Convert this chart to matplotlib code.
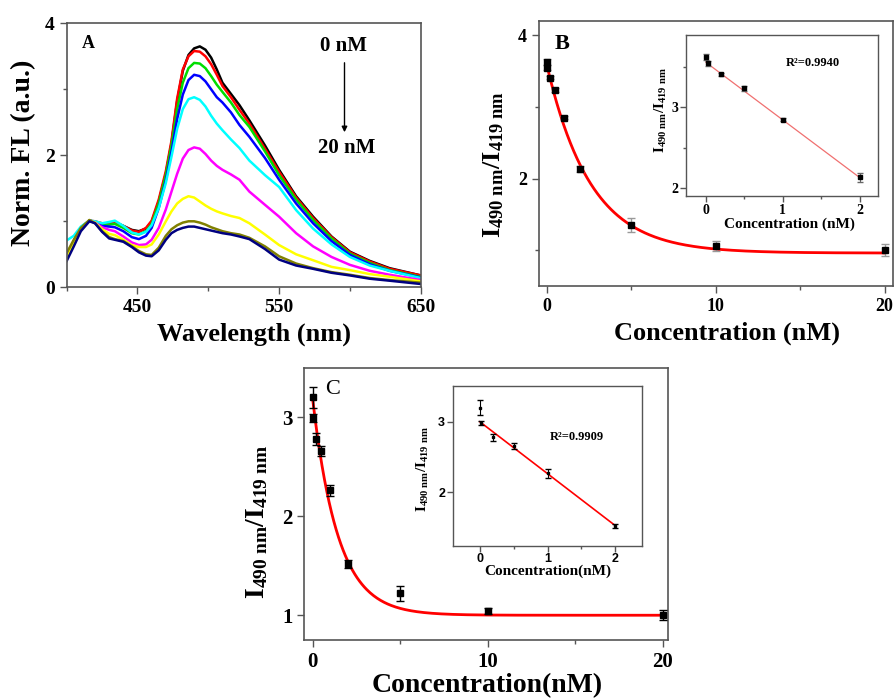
import numpy as np
import matplotlib
matplotlib.use("Agg")
import matplotlib.pyplot as plt

plt.rcParams['font.family'] = ['Liberation Serif', 'DejaVu Serif']
plt.rcParams['font.weight'] = 'bold'
plt.rcParams['mathtext.fontset'] = 'custom'
plt.rcParams['mathtext.rm'] = 'Liberation Serif'
plt.rcParams['mathtext.bf'] = 'Liberation Serif:bold'
plt.rcParams['mathtext.it'] = 'Liberation Serif:italic'

W, H = 894, 698

# ---- panel A: normalised spectra, 0 nM -> 20 nM
wl = [400, 405, 410, 416, 420, 425, 430, 434, 440, 446, 451, 456, 460, 465, 470, 474,
      478, 482, 486, 490, 494, 498, 502, 506, 510, 516, 522, 529, 540, 550, 562, 574,
      587, 600, 614, 628, 650]
fl_black = [0.45, 0.70, 0.90, 1.01, 0.99, 0.95, 0.96, 0.98, 0.93, 0.87, 0.85, 0.89, 0.99, 1.30,
            1.72, 2.18, 2.82, 3.28, 3.52, 3.62, 3.65, 3.60, 3.48, 3.30, 3.10, 2.93, 2.76, 2.53,
            2.15, 1.78, 1.38, 1.07, 0.77, 0.54, 0.40, 0.29, 0.18]
fl_red = [0.45, 0.70, 0.90, 1.01, 1.00, 0.97, 0.97, 0.99, 0.93, 0.86, 0.84, 0.90, 1.01, 1.33,
          1.76, 2.22, 2.86, 3.30, 3.50, 3.58, 3.57, 3.50, 3.38, 3.22, 3.05, 2.88, 2.69, 2.48,
          2.10, 1.75, 1.36, 1.05, 0.76, 0.53, 0.39, 0.28, 0.18]
fl_green = [0.45, 0.70, 0.90, 1.01, 0.99, 0.94, 0.95, 0.96, 0.90, 0.82, 0.80, 0.85, 0.96, 1.27,
            1.70, 2.15, 2.70, 3.10, 3.32, 3.40, 3.39, 3.32, 3.20, 3.07, 2.96, 2.80, 2.61, 2.43,
            2.06, 1.70, 1.33, 1.02, 0.74, 0.51, 0.37, 0.26, 0.16]
fl_blue = [0.43, 0.68, 0.89, 1.01, 0.99, 0.93, 0.92, 0.91, 0.85, 0.76, 0.73, 0.78, 0.90, 1.20,
           1.62, 2.05, 2.55, 2.92, 3.14, 3.22, 3.20, 3.12, 3.00, 2.88, 2.80, 2.65, 2.46, 2.28,
           1.96, 1.63, 1.27, 0.97, 0.70, 0.49, 0.35, 0.25, 0.15]
fl_cyan = [0.71, 0.78, 0.92, 1.01, 1.00, 0.97, 0.99, 1.01, 0.93, 0.83, 0.80, 0.84, 0.94, 1.20,
           1.58, 1.98, 2.40, 2.70, 2.85, 2.88, 2.84, 2.74, 2.60, 2.48, 2.38, 2.24, 2.11, 1.92,
           1.70, 1.52, 1.17, 0.89, 0.65, 0.46, 0.33, 0.25, 0.14]
fl_magenta = [0.43, 0.66, 0.88, 1.01, 0.98, 0.91, 0.87, 0.85, 0.77, 0.68, 0.64, 0.65, 0.72, 0.90,
              1.18, 1.45, 1.72, 1.95, 2.08, 2.12, 2.10, 2.02, 1.92, 1.84, 1.78, 1.71, 1.63, 1.45,
              1.25, 1.07, 0.82, 0.62, 0.46, 0.34, 0.25, 0.19, 0.11]
fl_yellow = [0.45, 0.67, 0.88, 1.01, 0.98, 0.88, 0.81, 0.79, 0.72, 0.64, 0.61, 0.61, 0.65, 0.80,
             1.00, 1.15, 1.27, 1.34, 1.38, 1.36, 1.30, 1.24, 1.19, 1.15, 1.12, 1.08, 1.05, 0.97,
             0.80, 0.64, 0.50, 0.41, 0.31, 0.26, 0.20, 0.16, 0.09]
fl_olive = [0.52, 0.72, 0.90, 1.02, 0.97, 0.85, 0.76, 0.73, 0.70, 0.62, 0.55, 0.50, 0.49, 0.60,
            0.78, 0.88, 0.94, 0.98, 1.00, 1.00, 0.98, 0.95, 0.91, 0.88, 0.85, 0.82, 0.80, 0.75,
            0.62, 0.47, 0.36, 0.29, 0.23, 0.19, 0.14, 0.11, 0.07]
fl_navy = [0.40, 0.62, 0.85, 1.00, 0.97, 0.84, 0.74, 0.72, 0.69, 0.61, 0.53, 0.48, 0.47, 0.56,
           0.72, 0.82, 0.87, 0.90, 0.92, 0.92, 0.90, 0.88, 0.86, 0.84, 0.82, 0.80, 0.77, 0.73,
           0.58, 0.42, 0.33, 0.28, 0.22, 0.18, 0.13, 0.10, 0.05]
spectra = [fl_black, fl_red, fl_green, fl_blue, fl_cyan, fl_magenta, fl_yellow, fl_olive, fl_navy]
spec_colors = ['black', 'red', '#00dd00', 'blue', 'cyan', 'magenta', 'yellow', '#808000', '#000080']

# ---- panel B: ratio vs concentration
conc_b = [0, 0.02, 0.2, 0.5, 1, 2, 5, 10, 20]
ratio_b = [3.63, 3.55, 3.41, 3.24, 2.85, 2.13, 1.35, 1.06, 1.00]
err_b = [0.04, 0.03, 0.02, 0.03, 0.02, 0.04, 0.10, 0.07, 0.08]
fit_b = (0.96, 2.64, 2.6)          # y0, A, t of exponential decay
ins_conc_b = [0, 0.02, 0.2, 0.5, 1, 2]
ins_ratio_b = [3.63, 3.55, 3.41, 3.24, 2.85, 2.13]
ins_err_b = [0.04, 0.03, 0.02, 0.03, 0.02, 0.05]
line_b = (3.56, -0.715)            # intercept, slope

# ---- panel C
conc_c = [0, 0.02, 0.2, 0.5, 1, 2, 5, 10, 20]
ratio_c = [3.20, 2.99, 2.78, 2.66, 2.26, 1.52, 1.22, 1.04, 1.00]
err_c = [0.11, 0.04, 0.06, 0.05, 0.06, 0.04, 0.08, 0.03, 0.05]
fit_c = (1.00, 2.18, 1.45)
ins_conc_c = [0, 0.02, 0.2, 0.5, 1, 2]
ins_ratio_c = [3.20, 2.98, 2.78, 2.66, 2.27, 1.52]
ins_err_c = [0.11, 0.03, 0.05, 0.04, 0.06, 0.03]
line_c = (3.00, -0.735)


def px_axes(fig, left, top, right, bottom):
    return fig.add_axes([left / W, 1 - bottom / H, (right - left) / W, (bottom - top) / H])


def ftext(fig, x, y, s, **kw):
    kw.setdefault('ha', 'center')
    kw.setdefault('va', 'center')
    return fig.text(x / W, 1 - y / H, s, **kw)


def style(ax, size, tickfam=None, lw=1.2, pad=3.5):
    for sp in ax.spines.values():
        sp.set_color('#555555')
        sp.set_linewidth(lw)
    ax.tick_params(which='both', direction='out', color='#555555', width=1.0)
    ax.tick_params(which='major', length=5, labelsize=size, pad=pad)
    ax.tick_params(which='minor', length=3)
    for lab in ax.get_xticklabels() + ax.get_yticklabels():
        lab.set_fontweight('bold')
        if tickfam:
            lab.set_family(tickfam)


fig = plt.figure(figsize=(W / 100, H / 100), dpi=100)

ratio_label = r'$\mathbf{I_{490\ nm}/I_{419\ nm}}$'

# panel A
ax = px_axes(fig, 66.7, 23.3, 420.7, 287.3)
for ys, c in zip(spectra, spec_colors):
    ax.plot(wl, ys, color=c, lw=1.8)
ax.set_xlim(400, 650)
ax.set_ylim(0, 4)
ax.set_xticks([450, 550, 650])
ax.set_xticks([400, 500, 600], minor=True)
ax.set_yticks([0, 2, 4])
ax.set_yticks([1, 3], minor=True)
style(ax, 14)
ftext(fig, 88, 44, 'A', fontsize=13, fontweight='bold')
ftext(fig, 343, 46, '0 nM', fontsize=15, fontweight='bold')
ftext(fig, 347, 148, '20 nM', fontsize=15, fontweight='bold')
fig.add_artist(matplotlib.patches.FancyArrowPatch(
    (344.5 / W, 1 - 60 / H), (344.5 / W, 1 - 135 / H), transform=fig.transFigure,
    arrowstyle='-|>', mutation_scale=8, color='black', lw=1))
ftext(fig, 254, 334, 'Wavelength (nm)', fontsize=19, fontweight='bold')
ftext(fig, 24, 153, 'Norm. FL (a.u.)', fontsize=20, fontweight='bold', rotation=90)

# panel B
ax = px_axes(fig, 539, 21, 893, 286)
xs = np.linspace(0, 20, 300)
ax.plot(xs, fit_b[0] + fit_b[1] * np.exp(-xs / fit_b[2]), color='red', lw=2, zorder=2)
ax.errorbar(conc_b, ratio_b, yerr=err_b, fmt='s', color='black', ms=5, ecolor='#999999',
            elinewidth=1, capsize=3, zorder=3)
ax.set_xlim(-0.45, 20.5)
ax.set_ylim(0.5, 4.2)
ax.set_xticks([0, 10, 20])
ax.set_xticks([5, 15], minor=True)
ax.set_yticks([2, 4])
ax.set_yticks([1, 3], minor=True)
style(ax, 13)
ftext(fig, 562, 44, 'B', fontsize=16, fontweight='bold')
ftext(fig, 727, 333, 'Concentration (nM)', fontsize=19, fontweight='bold')
ftext(fig, 494, 165, ratio_label, fontsize=19, rotation=90)

ax = px_axes(fig, 686, 35, 878, 196)
xl = np.array([0.0, 2.0])
ax.plot(xl, line_b[0] + line_b[1] * xl, color='#f07070', lw=0.9, zorder=2)
ax.errorbar(ins_conc_b, ins_ratio_b, yerr=ins_err_b, fmt='s', color='black', ms=3,
            ecolor='#666666', elinewidth=0.8, capsize=2, zorder=3)
ax.set_xlim(-0.26, 2.24)
ax.set_ylim(1.9, 3.9)
ax.set_xticks([0, 1, 2])
ax.set_xticks([0.5, 1.5], minor=True)
ax.set_yticks([2, 3])
ax.set_yticks([2.5, 3.5], minor=True)
style(ax, 10, lw=1.0, pad=1.5)
ax.tick_params(which='major', length=4)
ax.tick_params(which='minor', length=2)
ftext(fig, 813, 63, 'R²=0.9940', fontsize=9, fontweight='bold')
ftext(fig, 789, 224, 'Concentration (nM)', fontsize=11, fontweight='bold')
ftext(fig, 661, 110, ratio_label, fontsize=11, rotation=90)

# panel C
ax = px_axes(fig, 304.3, 367.7, 668, 640)
ax.plot(xs, fit_c[0] + fit_c[1] * np.exp(-xs / fit_c[2]), color='red', lw=2, zorder=2)
ax.errorbar(conc_c, ratio_c, yerr=err_c, fmt='s', color='black', ms=4, ecolor='black',
            elinewidth=1, capsize=3, zorder=3)
ax.set_xlim(-0.48, 20.3)
ax.set_ylim(0.75, 3.5)
ax.set_xticks([0, 10, 20])
ax.set_xticks([5, 15], minor=True)
ax.set_yticks([1, 2, 3])
style(ax, 15)
ftext(fig, 333, 389, 'C', fontsize=16, fontweight='normal')
ftext(fig, 487, 686, 'Concentration(nM)', fontsize=20, fontweight='bold')
ftext(fig, 257, 522, ratio_label, fontsize=20, rotation=90)

ax = px_axes(fig, 452.7, 385.7, 642.3, 545.7)
ax.plot(xl, line_c[0] + line_c[1] * xl, color='red', lw=1.2, zorder=2)
ax.errorbar(ins_conc_c, ins_ratio_c, yerr=ins_err_c, fmt='s', color='black', ms=2,
            ecolor='black', elinewidth=0.8, capsize=2, zorder=3)
ax.set_xlim(-0.40, 2.40)
ax.set_ylim(1.245, 3.51)
ax.set_xticks([0, 1, 2])
ax.set_xticks([0.5, 1.5], minor=True)
ax.set_yticks([2, 3])
style(ax, 9, tickfam='Liberation Sans', lw=1.0, pad=1.5)
ax.tick_params(which='major', length=4)
ax.tick_params(which='minor', length=2)
ftext(fig, 577, 437, 'R²=0.9909', fontsize=9, fontweight='bold')
ftext(fig, 548, 571, 'Concentration(nM)', fontsize=11, fontweight='bold')
ftext(fig, 423, 469, ratio_label, fontsize=11, rotation=90)

fig.savefig('out.png', dpi=100, facecolor='white')
